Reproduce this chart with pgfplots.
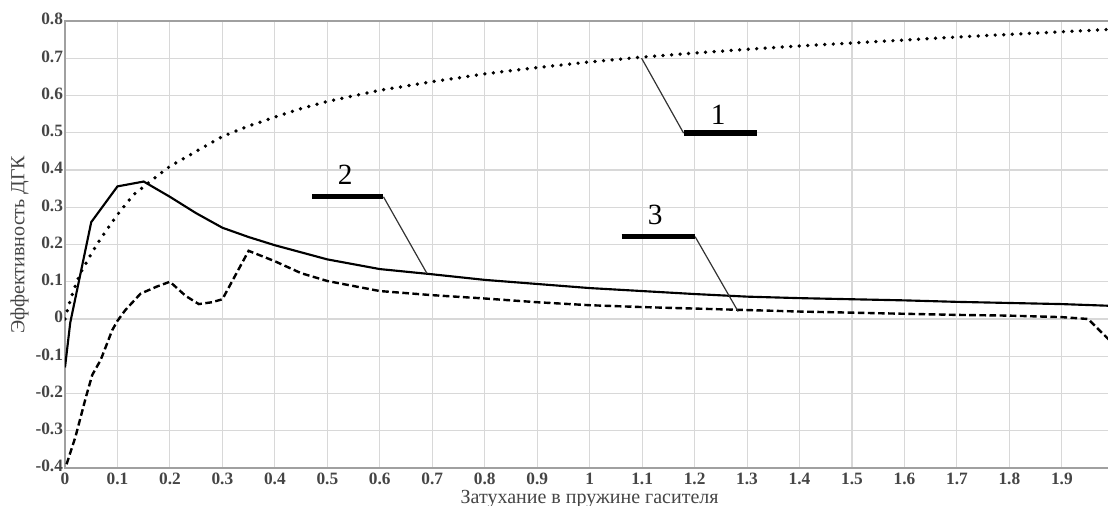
\documentclass[border=0pt]{standalone}
\usepackage{pgfplots}
\pgfplotsset{compat=1.18}
\usepackage{fontspec}
\setmainfont{Liberation Serif}
\definecolor{tickgray}{HTML}{454545}
\definecolor{axgray}{HTML}{A0A0A0}
\definecolor{gridgray}{HTML}{D8D8D8}
\newcommand{\labfont}{\fontsize{15}{18}\selectfont}
\begin{document}
\begin{tikzpicture}
\begin{axis}[
  at={(0,0)}, anchor=south west,
  scale only axis, width=787pt, height=335.25pt,
  xmin=0, xmax=2, ymin=-0.4, ymax=0.8,
  axis lines=box,
  axis line style={draw=axgray, line width=1.3pt},
  grid=major,
  major grid style={draw=gridgray, line width=0.8pt},
  major tick length=0pt,
  xtick={0,0.1,0.2,0.3,0.4,0.5,0.6,0.7,0.8,0.9,1,1.1,1.2,1.3,1.4,1.5,1.6,1.7,1.8,1.9,2},
  xticklabels={0,0.1,0.2,0.3,0.4,0.5,0.6,0.7,0.8,0.9,1,1.1,1.2,1.3,1.4,1.5,1.6,1.7,1.8,1.9,2},
  ytick={-0.4,-0.3,-0.2,-0.1,0,0.1,0.2,0.3,0.4,0.5,0.6,0.7,0.8},
  yticklabels={-0.4,-0.3,-0.2,-0.1,0,0.1,0.2,0.3,0.4,0.5,0.6,0.7,0.8},
  tick label style={font=\fontsize{13}{15}\selectfont\bfseries, text=tickgray},
  xticklabel style={inner sep=0pt, text height=9pt, text depth=0pt, yshift=-3.2pt},
  yticklabel style={xshift=2pt, inner ysep=0pt, text height=6pt, text depth=0pt},
  xlabel={\labfont Затухание в пружине гасителя},
  ylabel={\labfont Эффективность ДГК},
  every axis x label/.style={at={([yshift=-26.5pt]axis description cs:0.5,0)}, anchor=base, inner sep=0pt, text height=9pt, text depth=3pt, text=tickgray},
  every axis y label/.style={at={([xshift=-34pt]axis description cs:0,0.5)}, anchor=center, rotate=90, text=tickgray},
]
% curve 1 (dotted)
\addplot[black, line width=2.8pt, line cap=round, dash pattern={on 0pt off 6.4pt}] coordinates {
(0,0.0) (0.01,0.05) (0.02,0.09) (0.03,0.125) (0.05,0.175) (0.07,0.22) (0.1,0.28)
(0.13,0.333) (0.166,0.373) (0.2,0.41) (0.25,0.45) (0.3,0.49) (0.35,0.518) (0.4,0.542)
(0.45,0.565) (0.5,0.584) (0.6,0.614) (0.7,0.637) (0.8,0.658) (0.9,0.675) (1.0,0.69)
(1.1,0.703) (1.2,0.714) (1.3,0.724) (1.4,0.733) (1.5,0.741) (1.6,0.749) (1.7,0.757)
(1.8,0.764) (1.9,0.771) (2.0,0.778)};
% curve 2 (solid)
\addplot[black, line width=1.6pt] coordinates {
(0,-0.13) (0.01,-0.01) (0.05,0.26) (0.1,0.356) (0.15,0.369) (0.2,0.328) (0.25,0.284)
(0.3,0.245) (0.35,0.22) (0.4,0.198) (0.5,0.16) (0.6,0.134) (0.7,0.12) (0.8,0.105)
(0.9,0.094) (1.0,0.083) (1.1,0.075) (1.2,0.067) (1.3,0.06) (1.4,0.056) (1.5,0.053)
(1.6,0.05) (1.7,0.046) (1.8,0.043) (1.9,0.04) (2.0,0.035)};
% curve 3 (dashed)
\addplot[black, line width=1.8pt, dash pattern={on 5pt off 2.6pt}] coordinates {
(0.003,-0.39) (0.02,-0.316) (0.04,-0.209) (0.052,-0.15) (0.068,-0.11) (0.09,-0.03)
(0.1,-0.005) (0.115,0.024) (0.144,0.068) (0.175,0.087) (0.2,0.1) (0.23,0.062)
(0.255,0.04) (0.28,0.045) (0.3,0.053) (0.32,0.105) (0.35,0.183) (0.4,0.155)
(0.45,0.123) (0.5,0.102) (0.6,0.075) (0.7,0.064) (0.8,0.055) (0.9,0.045) (1.0,0.037)
(1.1,0.032) (1.2,0.028) (1.3,0.024) (1.4,0.02) (1.5,0.017) (1.6,0.014) (1.7,0.011)
(1.8,0.009) (1.9,0.005) (1.95,0.0) (2.0,-0.07)};
% annotations
\draw[black!80, line width=0.9pt] (axis cs:1.099,0.70) -- (axis cs:1.179,0.499);
\draw[black, line width=4pt] (axis cs:1.179,0.499) -- (axis cs:1.319,0.499);
\node[font=\fontsize{22}{24}\selectfont] at (axis cs:1.245,0.548) {1};
\draw[black!80, line width=0.9pt] (axis cs:0.607,0.328) -- (axis cs:0.69,0.122);
\draw[black, line width=4pt] (axis cs:0.471,0.328) -- (axis cs:0.607,0.328);
\node[font=\fontsize{22}{24}\selectfont] at (axis cs:0.534,0.386) {2};
\draw[black!80, line width=0.9pt] (axis cs:1.201,0.221) -- (axis cs:1.283,0.02);
\draw[black, line width=4pt] (axis cs:1.061,0.221) -- (axis cs:1.201,0.221);
\node[font=\fontsize{22}{24}\selectfont] at (axis cs:1.125,0.279) {3};
\end{axis}
\pgfresetboundingbox
\useasboundingbox (-48.75pt,-28.5pt) rectangle (782.25pt,351pt);
\end{tikzpicture}
\end{document}
